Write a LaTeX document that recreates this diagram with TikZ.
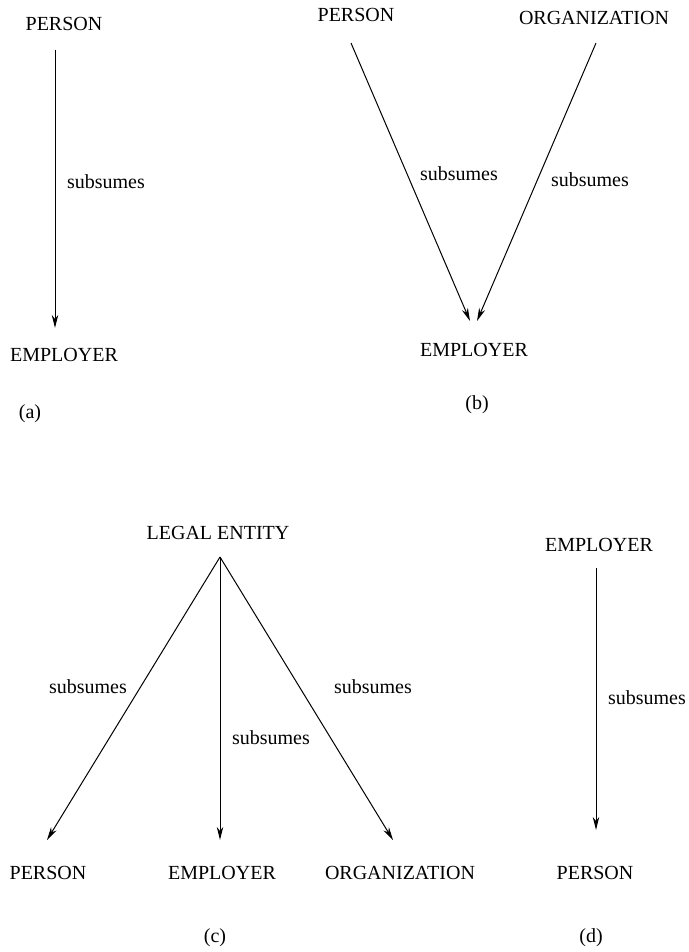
\documentclass[tikz,border=0pt]{standalone}
\usepackage{fontspec}
\setmainfont{Liberation Serif}
\usetikzlibrary{arrows.meta}
\begin{document}
\begin{tikzpicture}[x=0.5pt,y=-0.5pt,
  lbl/.style={inner sep=0pt, font=\fontsize{10pt}{12pt}\selectfont},
  subs/.style={-{Stealth[length=6.5pt,width=3.2pt,inset=2pt]}, line width=0.5pt}]
\useasboundingbox (0,0) rectangle (689,952);

% (a) PERSON subsumes EMPLOYER
\node[lbl] (aP) at (64,24) {PERSON};
\node[lbl] (aE) at (64,355) {EMPLOYER};
\node[lbl] (aT) at (30,414) {(a)};
\coordinate (aS) at (55,50);
\coordinate (aF) at (55,328);
\draw[subs] (aS) -- (aF);
\node[lbl] (aL) at (106,182) {subsumes};

% (b) PERSON and ORGANIZATION both subsume EMPLOYER
\node[lbl] (bP) at (356,15) {PERSON};
\node[lbl] (bO) at (594,18) {ORGANIZATION};
\node[lbl] (bE) at (474,350) {EMPLOYER};
\node[lbl] (bT) at (477,405) {(b)};
\coordinate (bPS) at (351,43);
\coordinate (bPF) at (470,321);
\coordinate (bOS) at (596,43);
\coordinate (bOF) at (477,321);
\draw[subs] (bPS) -- (bPF);
\draw[subs] (bOS) -- (bOF);
\node[lbl] (bL1) at (459,174) {subsumes};
\node[lbl] (bL2) at (590,180) {subsumes};

% (c) LEGAL ENTITY subsumes PERSON, EMPLOYER, ORGANIZATION
\node[lbl] (cLE) at (218,533) {LEGAL ENTITY};
\node[lbl] (cP) at (48,873) {PERSON};
\node[lbl] (cE) at (222,873) {EMPLOYER};
\node[lbl] (cO) at (400,873) {ORGANIZATION};
\node[lbl] (cT) at (215,938) {(c)};
\coordinate (cA) at (220,557);
\coordinate (cPF) at (47,840);
\coordinate (cEF) at (220,840);
\coordinate (cOF) at (393,840);
\draw[subs] (cA) -- (cPF);
\draw[subs] (cA) -- (cEF);
\draw[subs] (cA) -- (cOF);
\node[lbl] (cL1) at (88,687) {subsumes};
\node[lbl] (cL2) at (271,738) {subsumes};
\node[lbl] (cL3) at (373,687) {subsumes};

% (d) EMPLOYER subsumes PERSON
\node[lbl] (dE) at (599,545) {EMPLOYER};
\node[lbl] (dP) at (595,873) {PERSON};
\node[lbl] (dT) at (591,938) {(d)};
\coordinate (dS) at (596,568);
\coordinate (dF) at (596,830);
\draw[subs] (dS) -- (dF);
\node[lbl] (dL) at (647,698) {subsumes};
\end{tikzpicture}
\end{document}
